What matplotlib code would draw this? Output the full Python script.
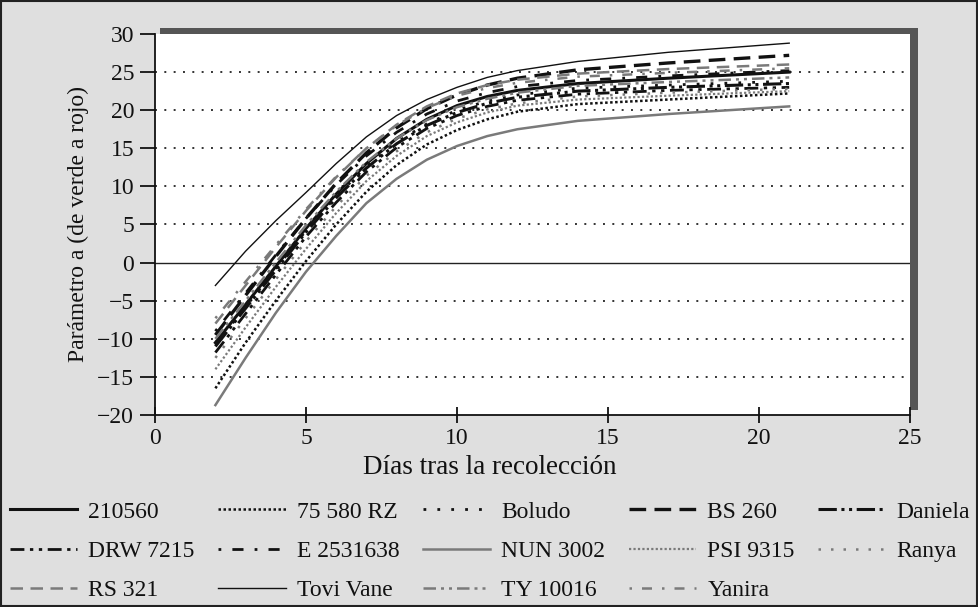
import matplotlib
matplotlib.use("Agg")
import matplotlib.pyplot as plt
from matplotlib.patches import Rectangle

plt.rcParams['font.family'] = ['Liberation Serif', 'DejaVu Serif']

days = [2, 3, 4, 5, 6, 7, 8, 9, 10, 11, 12, 14, 17, 21]

s_210560   = [-10.5, -5.5, -0.5, 4.5, 9.0, 13.0, 16.3, 18.8, 20.6, 21.8, 22.6, 23.5, 24.2, 25.0]
s_75580rz  = [-16.5, -10.5, -5.0, 0.2, 5.0, 9.3, 12.8, 15.5, 17.4, 18.8, 19.8, 20.8, 21.4, 22.2]
s_boludo   = [-10.8, -5.8, -0.8, 4.2, 8.7, 12.6, 15.8, 18.2, 20.0, 21.2, 22.0, 22.9, 23.3, 23.8]
s_bs260    = [-9.5, -4.3, 0.8, 5.8, 10.4, 14.4, 17.7, 20.2, 22.0, 23.3, 24.2, 25.3, 26.2, 27.2]
s_daniela  = [-11.0, -6.0, -1.0, 4.0, 8.5, 12.4, 15.6, 18.0, 19.7, 20.9, 21.7, 22.5, 23.0, 23.5]
s_drw7215  = [-11.8, -6.7, -1.6, 3.4, 7.9, 11.9, 15.1, 17.6, 19.3, 20.5, 21.3, 22.1, 22.6, 23.0]
s_e2531638 = [-9.0, -4.0, 1.0, 5.8, 10.2, 14.0, 17.1, 19.5, 21.2, 22.3, 23.1, 23.9, 24.5, 25.2]
s_nun3002  = [-18.7, -12.5, -6.6, -1.2, 3.5, 7.8, 11.0, 13.5, 15.3, 16.6, 17.5, 18.6, 19.5, 20.5]
s_psi9315  = [-14.0, -8.5, -3.2, 1.8, 6.5, 10.7, 14.0, 16.6, 18.4, 19.7, 20.6, 21.4, 21.9, 22.5]
s_ranya    = [-12.5, -7.3, -2.2, 2.8, 7.4, 11.4, 14.6, 17.1, 18.9, 20.1, 20.9, 21.8, 22.3, 22.8]
s_rs321    = [-8.0, -3.0, 2.0, 6.8, 11.2, 15.0, 18.1, 20.5, 22.2, 23.3, 24.0, 24.8, 25.4, 26.0]
s_tovivane = [-3.0, 1.5, 5.5, 9.2, 13.0, 16.5, 19.3, 21.4, 23.0, 24.3, 25.2, 26.4, 27.6, 28.8]
s_ty10016  = [-10.0, -5.0, 0.0, 4.9, 9.3, 13.2, 16.3, 18.7, 20.4, 21.5, 22.3, 23.2, 23.7, 24.3]
s_yanira   = [-7.3, -2.5, 2.3, 7.0, 11.3, 15.0, 18.0, 20.3, 21.9, 22.9, 23.6, 24.4, 24.9, 25.5]

labels = ['210560', '75 580 RZ', 'Boludo', 'BS 260', 'Daniela',
          'DRW 7215', 'E 2531638', 'NUN 3002', 'PSI 9315', 'Ranya',
          'RS 321', 'Tovi Vane', 'TY 10016', 'Yanira']
series = [s_210560, s_75580rz, s_boludo, s_bs260, s_daniela,
          s_drw7215, s_e2531638, s_nun3002, s_psi9315, s_ranya,
          s_rs321, s_tovivane, s_ty10016, s_yanira]

K = '#111111'
G = '#7a7a7a'
styles = [
    dict(color=K, lw=2.2, ls='-'),
    dict(color=K, lw=1.8, ls=(0, (1, 1))),
    dict(color=K, lw=2.0, ls=(0, (1, 4))),
    dict(color=K, lw=2.4, ls=(0, (5, 2.5))),
    dict(color=K, lw=2.2, ls=(0, (6, 1.5, 1, 1.5, 1, 1.5))),
    dict(color=K, lw=2.0, ls=(0, (5, 2, 1.2, 2, 1.2, 2))),
    dict(color=K, lw=2.0, ls=(0, (1, 4, 4, 4))),
    dict(color=G, lw=1.8, ls='-'),
    dict(color=G, lw=1.6, ls=(0, (1, 1))),
    dict(color=G, lw=1.8, ls=(0, (1, 4))),
    dict(color=G, lw=1.8, ls=(0, (5, 3))),
    dict(color=K, lw=1.0, ls='-'),
    dict(color=G, lw=1.8, ls=(0, (5, 2, 1.2, 2, 1.2, 2))),
    dict(color=G, lw=1.8, ls=(0, (1, 4, 4, 4))),
]

W, H = 979, 607
fig = plt.figure(figsize=(W / 100, H / 100), dpi=100)
fig.patch.set_facecolor('#dfdfdf')

# figure border
fig.patches.append(Rectangle((0.001, 0.001), 0.997, 0.997, transform=fig.transFigure,
                             fill=False, edgecolor='#222222', lw=1.5, zorder=0))

left, right, top, bottom = 155 / W, 910 / W, 1 - 34 / H, 1 - 415 / H
# shadow behind plot area (top and right edges)
fig.patches.append(Rectangle((left + 5 / W, bottom + 5 / H), right - left + 3 / W, top - bottom + 1 / H,
                             transform=fig.transFigure, facecolor='#555555', edgecolor='none', zorder=0))
ax = fig.add_axes([left, bottom, right - left, top - bottom])
ax.set_zorder(2)
ax.set_facecolor('white')

ax.set_xlim(0, 25)
ax.set_ylim(-20, 30)
ax.set_xticks([0, 5, 10, 15, 20, 25])
ax.set_yticks(list(range(-20, 31, 5)))

for y in range(-15, 30, 5):
    if y == 0:
        ax.axhline(0, color='#222222', lw=1.0, zorder=1)
    else:
        ax.axhline(y, color='#333333', lw=1.4, ls=(0, (1, 3.8)), zorder=1)

handles = []
for lab, ys, st in zip(labels, series, styles):
    h, = ax.plot(days, ys, label=lab, zorder=3, **st)
    handles.append(h)

for s in ['top', 'right']:
    ax.spines[s].set_visible(False)
ax.spines['left'].set_color('#111111')
ax.spines['bottom'].set_color('#111111')
ax.spines['left'].set_linewidth(1.3)
ax.spines['bottom'].set_linewidth(1.3)
ax.tick_params(axis='y', direction='out', length=11, width=1.3, labelsize=17, pad=4, colors='#111111')
ax.tick_params(axis='x', direction='inout', length=12, width=1.3, labelsize=17, pad=3, colors='#111111')

ax.set_ylabel('Parámetro a (de verde a rojo)', fontsize=17, color='#111111', labelpad=6)
fig.text(0.5, 1 - 468 / H, 'Días tras la recolección', ha='center', va='center',
         fontsize=19.5, color='#111111')

# legend: reorder so that rows read as in the reference
ncol = 5
order = []
rows = 3
for c in range(ncol):
    for r in range(rows):
        i = r * ncol + c
        if i < len(handles):
            order.append(i)
leg = fig.legend([handles[i] for i in order], [labels[i] for i in order],
                 ncol=ncol, loc='center left', bbox_to_anchor=(10 / W, 1 - 551 / H),
                 frameon=False, fontsize=17, handlelength=2.85, handletextpad=0.47,
                 columnspacing=1.0, labelspacing=0.75, borderaxespad=0, borderpad=0)
for t in leg.get_texts():
    t.set_color('#111111')

fig.savefig('out.png', dpi=100, facecolor=fig.get_facecolor())
